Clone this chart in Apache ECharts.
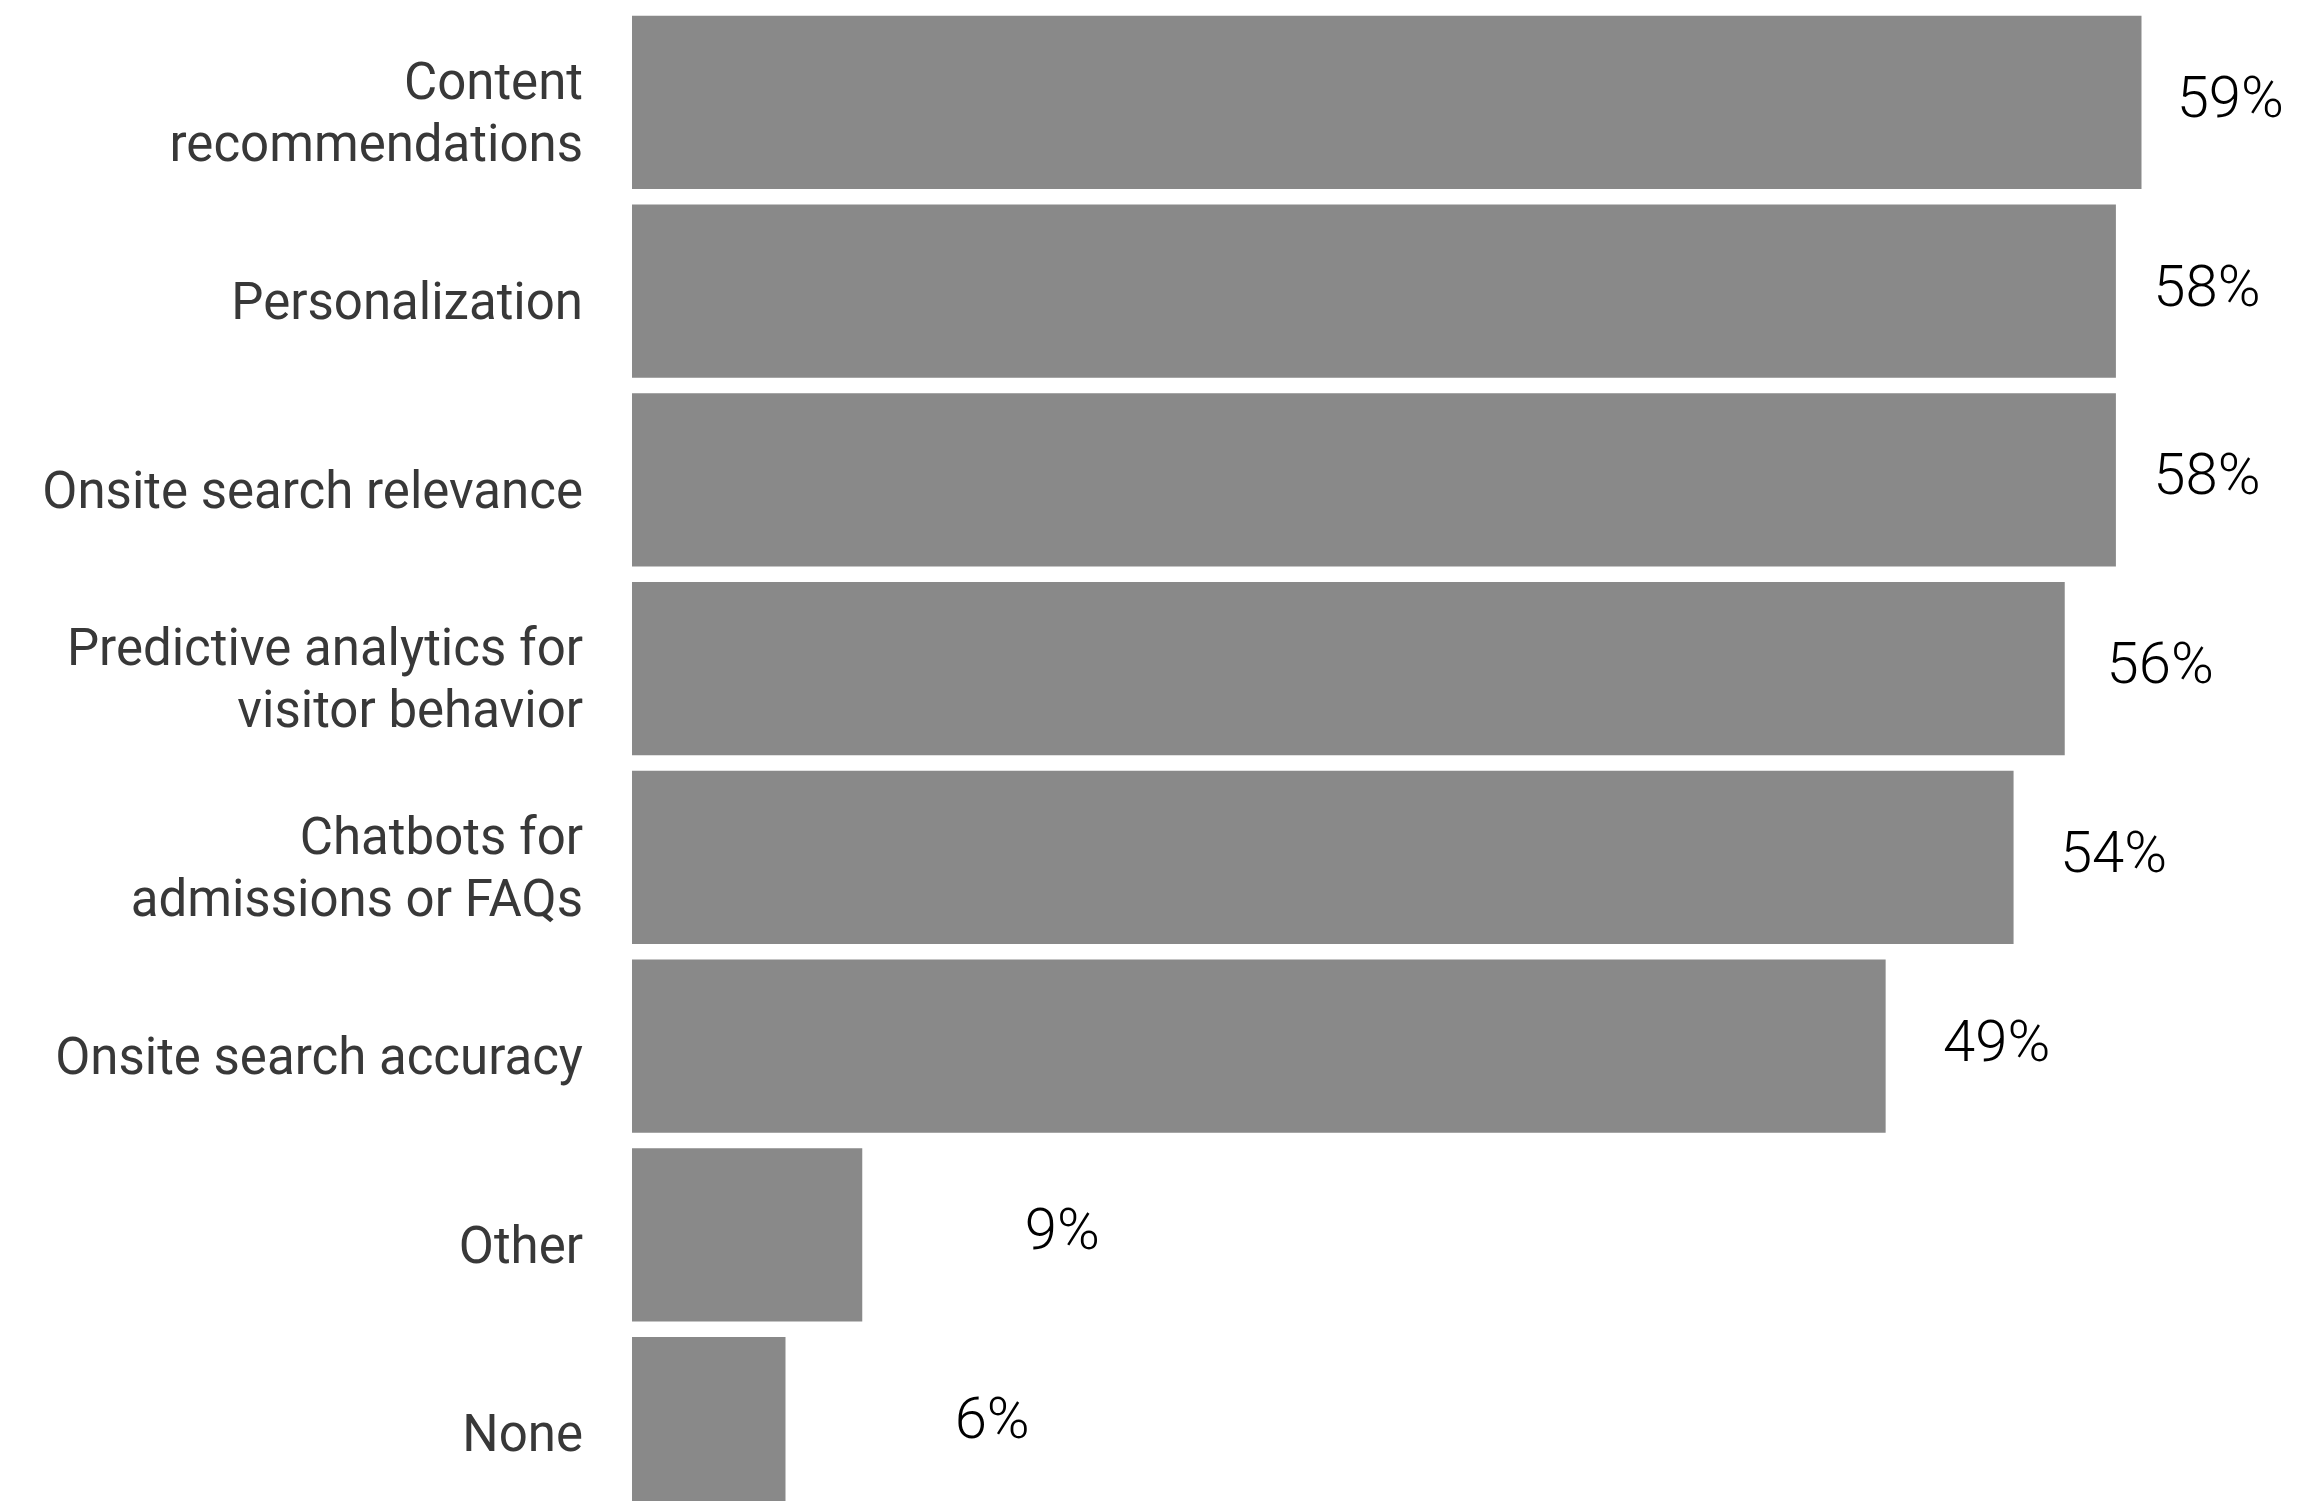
<!DOCTYPE html>
<html>
<head>
  <meta charset="utf-8">
  <title>AI use cases</title>
  <script src="https://cdn.jsdelivr.net/npm/echarts@6/dist/echarts.min.js"></script>
  <style>
    html, body { margin: 0; padding: 0; background: #fff; overflow: hidden; }
    #chart { width: 2310px; height: 1530px; }
  </style>
</head>
<body>
  <div id="chart"></div>
  <script>
    var categories = [
      'Content\nrecommendations',
      'Personalization',
      'Onsite search relevance',
      'Predictive analytics for\nvisitor behavior',
      'Chatbots for\nadmissions or FAQs',
      'Onsite search accuracy',
      'Other',
      'None'
    ];
    var values = [59, 58, 58, 56, 54, 49, 9, 6];
    var labelPoints = values.map(function (v, i) { return [v, categories[i]]; });
    var namePoints = categories.map(function (c) { return [0, c]; });

    var myChart = echarts.init(document.getElementById('chart'));
    myChart.setOption({
      animation: false,
      grid: { left: 632, top: 8, width: 1663, height: 1510 },
      xAxis: [
        { type: 'value', min: 0, max: 65, show: false },
        { type: 'value', min: -9.42, max: 61.77, show: false }
      ],
      yAxis: {
        type: 'category',
        inverse: true,
        data: categories,
        axisLine: { show: false },
        axisTick: { show: false },
        axisLabel: { show: false }
      },
      series: [
        {
          type: 'bar',
          data: values,
          barCategoryGap: '8.3%',
          itemStyle: { color: '#898989' }
        },
        {
          // category names, drawn a bit below the bar centre like the original
          type: 'scatter',
          data: namePoints,
          symbolSize: 0,
          clip: false,
          itemStyle: { opacity: 1 },
          label: {
            show: true,
            position: 'left',
            distance: 49,
            offset: [0, 15],
            align: 'right',
            fontFamily: 'Roboto',
            fontSize: 51,
            lineHeight: 62,
            color: '#383838',
            formatter: function (p) { return p.value[1]; }
          }
        },
        {
          type: 'scatter',
          xAxisIndex: 1,
          data: labelPoints,
          symbolSize: 0,
          itemStyle: { opacity: 1 },
          label: {
            show: true,
            position: 'inside',
            fontFamily: 'Roboto',
            fontWeight: 300,
            fontSize: 58,
            color: '#000',
            formatter: function (p) { return p.value[0] + '%'; }
          }
        }
      ]
    });
  </script>
</body>
</html>
